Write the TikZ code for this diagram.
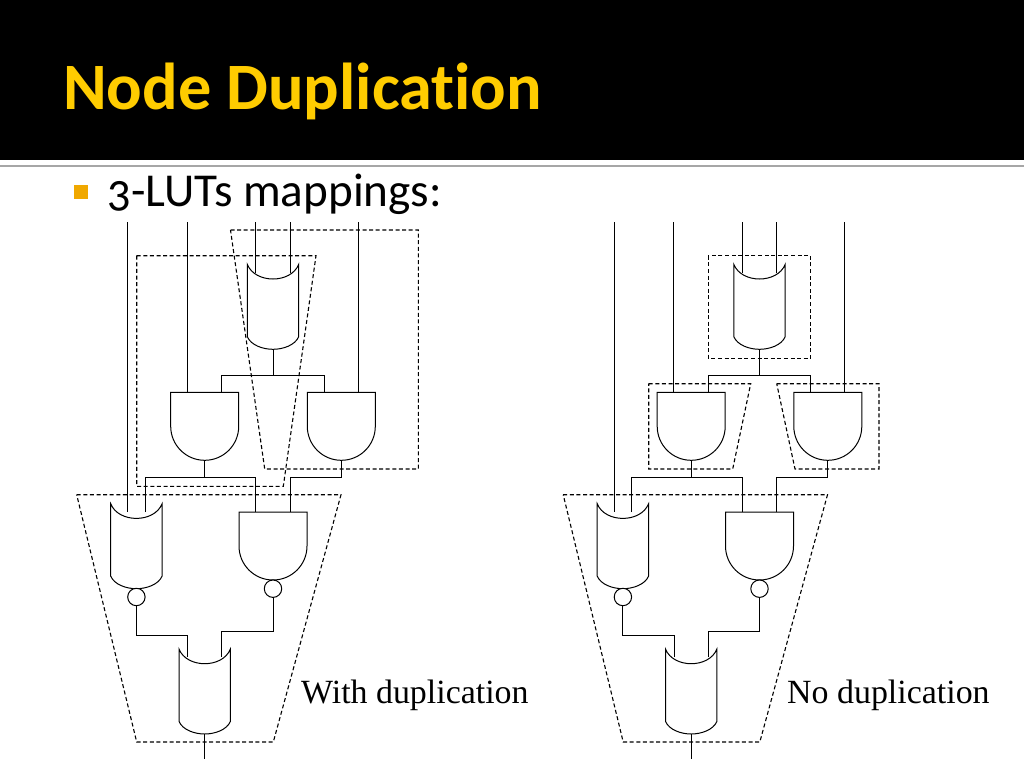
\documentclass[tikz,border=0pt]{standalone}
\usepackage{fontspec}
\setmainfont{Carlito}
\newfontfamily\labelfont{Liberation Serif}
\newfontfamily\titlefont[Ligatures=NoCommon,BoldFont={Carlito Bold}]{Carlito}
\newfontfamily\bodyfont[Numbers=OldStyle,Ligatures=NoCommon]{Carlito}
\definecolor{titlegold}{HTML}{FFCC00}
\definecolor{bulletgold}{HTML}{F0A800}
\definecolor{rulegrey}{HTML}{A6A6A6}
\definecolor{wire}{HTML}{000000}
\tikzset{
  x=1pt,y=-1pt,
  wireline/.style={draw=wire,line width=1pt,line join=miter},
  gateline/.style={draw=wire,line width=1pt,fill=white},
  lutbox/.style={draw=black,line width=1.1pt,dash pattern=on 4pt off 2.6pt},
  caption/.style={font=\labelfont\fontsize{33.9}{36}\selectfont,anchor=base west,inner sep=0pt,text=black},
  bubble/.style={circle,draw=wire,line width=1pt,fill=white,minimum size=17.4pt,inner sep=0pt},
  orgate/.pic={
    \path[gateline] (-25.7,0) .. controls (-18,19.6) and (18,19.6) .. (25.7,0)
      -- (25.7,72.4) .. controls (22,81) and (10,85) .. (0,85)
      .. controls (-10,85) and (-22,81) .. (-25.7,72.4) -- cycle;
    \coordinate (out) at (0,85);
  },
  andgate/.pic={
    \path[gateline] (-34,0) -- (34,0) -- (34,34) .. controls (34,52.8) and (18.8,68) .. (0,68)
      .. controls (-18.8,68) and (-34,52.8) .. (-34,34) -- cycle;
    \coordinate (out) at (0,68);
  }
}
\newcommand{\drawcircuit}[2]{%
  \begin{scope}[xshift=#1pt,name prefix=#2-]
    % LUT outline on the bottom level
    \draw[lutbox] (76.7,494.7) -- (341,494.7) -- (273.3,742) -- (136.7,742) -- cycle;
    % gates
    \pic (top) at (273,264.3) {orgate};
    \pic (andL) at (204.7,392.3) {andgate};
    \pic (andR) at (341.3,392.3) {andgate};
    \pic (nor) at (136.4,503.7) {orgate};
    \pic (nand) at (273,512) {andgate};
    \pic (last) at (204.7,649) {orgate};
    \node[bubble] (bubL) at (136.4,597) {};
    \node[bubble] (bubR) at (273,588.7) {};
    % free wire ends
    \coordinate (i1) at (127.7,222);
    \coordinate (i2) at (187.3,222);
    \coordinate (i3) at (255.7,222);
    \coordinate (i4) at (290,222);
    \coordinate (i5) at (358.3,222);
    \coordinate (j1) at (127.7,512);
    \coordinate (j2) at (145.3,512);
    \coordinate (j3) at (255.7,512);
    \coordinate (j4) at (290,512);
    \coordinate (t1) at (255.7,273);
    \coordinate (t2) at (290,273);
    \coordinate (a1) at (187.3,392.3);
    \coordinate (a2) at (221.7,392.3);
    \coordinate (a3) at (324.3,392.3);
    \coordinate (a4) at (358.3,392.3);
    \coordinate (l1) at (187.7,657);
    \coordinate (l2) at (221.7,657);
    \coordinate (end) at (204.7,759.3);
    % wires
    \draw[wireline] (i1) -- (j1);
    \draw[wireline] (i2) -- (a1);
    \draw[wireline] (i3) -- (t1);
    \draw[wireline] (i4) -- (t2);
    \draw[wireline] (i5) -- (a4);
    \draw[wireline] (topout) -- (273,375.3);
    \draw[wireline] (a2) -- (221.7,375.3) -- (324.3,375.3) -- (a3);
    \draw[wireline] (j2) -- (145.3,477.7) -- (255.7,477.7) -- (j3);
    \draw[wireline] (andLout) -- (204.7,477.7);
    \draw[wireline] (andRout) -- (341.3,477.7) -- (290,477.7) -- (j4);
    \draw[wireline] (bubL) -- (136.4,635) -- (187.7,635) -- (l1);
    \draw[wireline] (bubR) -- (273,631.3) -- (221.7,631.3) -- (l2);
    \draw[wireline] (lastout) -- (end);
  \end{scope}
}
\begin{document}
\begin{tikzpicture}
\useasboundingbox (0,0) rectangle (1024,768);
\fill[white] (0,0) rectangle (1024,768);
\fill[black] (0,0) rectangle (1024,160);
\fill[rulegrey] (0,165) rectangle (1024,167);
\node[anchor=base west,inner sep=0pt,text=titlegold,font=\titlefont\bfseries\fontsize{66.3}{70}\selectfont] (title) at (63,109.5) {Node Duplication};
\node[fill=bulletgold,minimum size=14pt,inner sep=0pt] (bullet) at (81,191.5) {};
\node[anchor=base west,inner sep=0pt,text=black,font=\bodyfont\fontsize{47.2}{50}\selectfont] (sub) at (107,206.5) {3-LUTs mappings:};
\drawcircuit{0}{L}
\drawcircuit{486.5}{R}
% LUT outlines, left circuit
\draw[lutbox] (230.5,230) -- (418.3,230) -- (418.3,469) -- (264.7,469) -- cycle;
\draw[lutbox] (136.7,255.7) -- (316,255.7) -- (283.3,486.3) -- (136.7,486.3) -- cycle;
% LUT outlines, right circuit
\draw[lutbox] (708.3,255.7) rectangle (810.7,358.3);
\draw[lutbox] (648.7,383.7) -- (750.7,383.7) -- (732.7,469) -- (648.7,469) -- cycle;
\draw[lutbox] (776.7,383.7) -- (879,383.7) -- (879,469) -- (795,469) -- cycle;
\node[caption] (cap1) at (301,703) {With duplication};
\node[caption] (cap2) at (787,703) {No duplication};
\end{tikzpicture}
\end{document}
